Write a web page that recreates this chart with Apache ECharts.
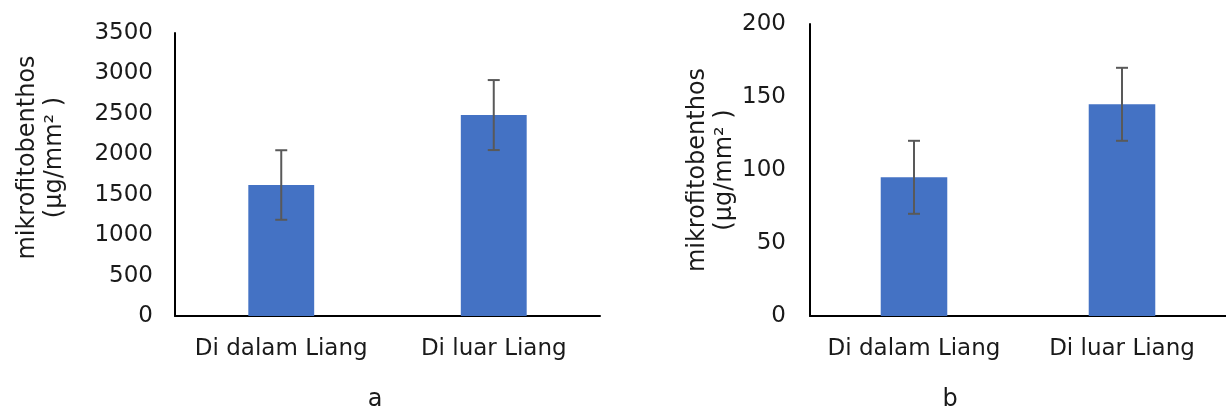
<!DOCTYPE html>
<html><head><meta charset="utf-8">
<script src="https://cdn.jsdelivr.net/npm/echarts@6/dist/echarts.min.js"></script>
<style>html,body{margin:0;padding:0;background:#fff}#c{width:1226px;height:412px}</style>
</head><body><div id="c"></div>
<script>
const categories = ['Di dalam Liang', 'Di luar Liang'];
const valuesA = [1620, 2485];
const errorsA = [430, 433];
const valuesB = [95, 145];
const errorsB = [25, 25];
const panelLabels = ['a', 'b'];
const yNameText = 'mikrofitobenthos\n(µg/mm² )';

const FONT = 'DejaVu Sans';
const FS = 23;
const txt = {color: '#1a1a1a', fontFamily: FONT, fontSize: FS};
const nameTxt = {color: '#1a1a1a', fontFamily: FONT, fontSize: 24, lineHeight: 27};

function errData(vals, errs) {
  return vals.map((v, i) => [i, v - errs[i], v + errs[i]]);
}
function errRender(params, api) {
  const x = api.value(0);
  const lo = api.coord([x, api.value(1)]);
  const hi = api.coord([x, api.value(2)]);
  const cap = 6;
  const st = {stroke: '#595959', lineWidth: 2};
  return {type: 'group', children: [
    {type: 'line', shape: {x1: hi[0], y1: hi[1], x2: lo[0], y2: lo[1]}, style: st},
    {type: 'line', shape: {x1: hi[0]-cap, y1: hi[1], x2: hi[0]+cap, y2: hi[1]}, style: st},
    {type: 'line', shape: {x1: lo[0]-cap, y1: lo[1], x2: lo[0]+cap, y2: lo[1]}, style: st}
  ]};
}
const axisLineStyle = {show: true, lineStyle: {color: '#000', width: 2}};
const plain = v => String(v);

const chart = echarts.init(document.getElementById('c'));
chart.setOption({
  animation: false,
  grid: [
    {left: 175, right: 626, top: 33, bottom: 96, containLabel: false, outerBoundsMode: 'none'},
    {left: 810, right: 0, top: 24, bottom: 96, containLabel: false, outerBoundsMode: 'none'}
  ],
  xAxis: [0, 1].map(g => ({
    type: 'category', gridIndex: g, data: categories,
    axisLine: axisLineStyle, axisTick: {show: false},
    axisLabel: Object.assign({margin: 22, interval: 0, hideOverlap: false}, txt)
  })),
  yAxis: [
    {type: 'value', gridIndex: 0, min: 0, max: 3500, interval: 500,
     axisLine: axisLineStyle, axisTick: {show: false}, splitLine: {show: false},
     axisLabel: Object.assign({margin: 22, formatter: plain}, txt),
     name: yNameText, nameLocation: 'middle', nameRotate: 90, nameGap: 107,
     nameTextStyle: Object.assign({padding: [0, 0, 0, 34]}, nameTxt)},
    {type: 'value', gridIndex: 1, min: 0, max: 200, interval: 50,
     axisLine: axisLineStyle, axisTick: {show: false}, splitLine: {show: false},
     axisLabel: Object.assign({margin: 24, formatter: plain}, txt),
     name: yNameText, nameLocation: 'middle', nameRotate: 90, nameGap: 70,
     nameTextStyle: nameTxt}
  ],
  series: [
    {type: 'bar', xAxisIndex: 0, yAxisIndex: 0, data: valuesA, barWidth: '31%',
     itemStyle: {color: '#4472C4'}},
    {type: 'custom', xAxisIndex: 0, yAxisIndex: 0, data: errData(valuesA, errorsA),
     renderItem: errRender, z: 5},
    {type: 'bar', xAxisIndex: 1, yAxisIndex: 1, data: valuesB, barWidth: '32%',
     itemStyle: {color: '#4472C4'}},
    {type: 'custom', xAxisIndex: 1, yAxisIndex: 1, data: errData(valuesB, errorsB),
     renderItem: errRender, z: 5}
  ],
  graphic: [
    {type: 'text', x: 375, y: 400, style: {text: panelLabels[0], textAlign: 'center', textVerticalAlign: 'middle', fill: '#1a1a1a', font: '24px ' + FONT}},
    {type: 'text', x: 950, y: 400, style: {text: panelLabels[1], textAlign: 'center', textVerticalAlign: 'middle', fill: '#1a1a1a', font: '24px ' + FONT}}
  ]
});
</script></body></html>
